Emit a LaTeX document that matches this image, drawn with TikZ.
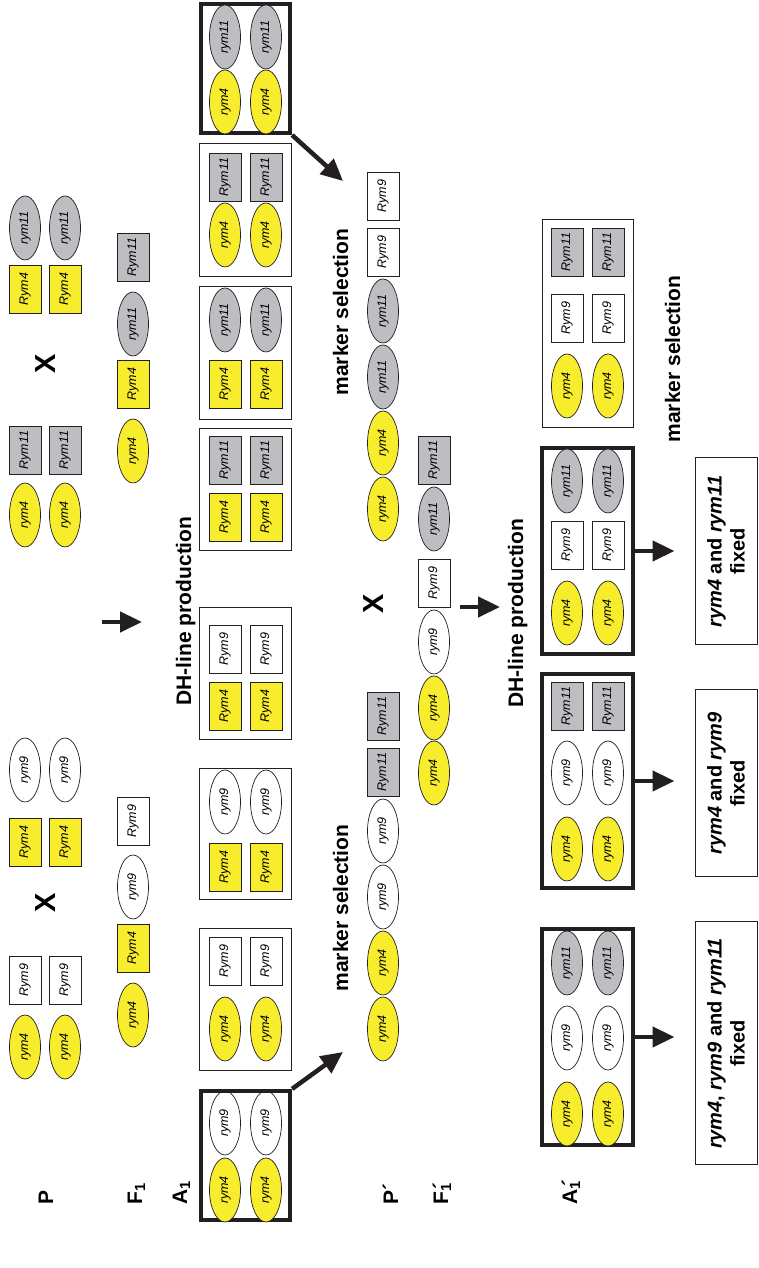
\documentclass[tikz,border=0pt]{standalone}
\usepackage{fontspec}
\setmainfont{Liberation Sans}
\definecolor{rymyellow}{RGB}{248,237,45}
\definecolor{rymgray}{RGB}{189,190,194}
\definecolor{rymline}{RGB}{35,31,32}
\usetikzlibrary{shapes.geometric}
\usetikzlibrary{arrows.meta}

\begin{document}
\begin{tikzpicture}[x=1pt, y=-1pt, rotate=90, transform shape,
  allel/.style={ellipse, draw=rymline, line width=0.7pt, minimum width=64pt, minimum height=31pt,
    inner sep=0pt, font=\fontsize{12.5}{12.5}\selectfont\itshape},
  marker/.style={rectangle, draw=rymline, line width=0.7pt, minimum width=48pt, minimum height=32pt,
    inner sep=0pt, font=\fontsize{12.5}{12.5}\selectfont\itshape},
  yel/.style={fill=rymyellow}, gry/.style={fill=rymgray},
  thinlines/.style={rectangle, draw=rymline, line width=1.2pt, minimum height=92pt, inner sep=0pt},
  thicklines/.style={rectangle, draw=rymline, line width=4.2pt, minimum height=89pt, inner sep=0pt},
  title/.style={font=\fontsize{21}{21}\selectfont\bfseries},
  cross/.style={font=\fontsize{29}{29}\selectfont\bfseries},
  fixbox/.style={rectangle, draw=rymline, line width=1pt, minimum height=62pt, align=center,
    font=\fontsize{20}{23}\selectfont\bfseries},
  bigarrow/.style={draw=rymline, line width=4.5pt, -{Triangle[length=22pt, width=20pt]}},
  ]
  \useasboundingbox (0,0) rectangle (1268,758);

  % row labels
  \node [title, anchor=base west] (lp) at (60,53) {P};
  \node [title, anchor=base west] (lf) at (60,142) {F\textsubscript{1}};
  \node [title, anchor=base west] (la) at (60,187) {A\textsubscript{1}};
  \node [title, anchor=base west] (lpp) at (60,398) {P´};
  \node [title, anchor=base west] (lfp) at (60,448) {F\textsubscript{1}\hspace{-0.3em}´};
  \node [title, anchor=base west] (lap) at (60,577) {A\textsubscript{1}\hspace{-0.3em}´};

  % parents
  \foreach \v/\s in {25/a, 65/b} {
    \node [allel, yel] (pa\s) at (221,\v) {rym4};
    \node [marker] (pb\s) at (288,\v) {Rym9};
    \node [marker, yel] (pc\s) at (426,\v) {Rym4};
    \node [allel] (pd\s) at (498,\v) {rym9};
    \node [allel, yel] (pe\s) at (753,\v) {rym4};
    \node [marker, gry] (pf\s) at (818,\v) {Rym11};
    \node [marker, yel] (pg\s) at (979,\v) {Rym4};
    \node [allel, gry] (ph\s) at (1040,\v) {rym11};
  }
  \node [cross] (xa) at (365,46) {X};
  \node [cross] (xb) at (904,46) {X};

  % F1
  \node [allel, yel] (fa) at (253,133) {rym4};
  \node [marker, yel] (fb) at (320,133) {Rym4};
  \node [allel] (fc) at (381,133) {rym9};
  \node [marker] (fd) at (447,133) {Rym9};
  \node [allel, yel] (fe) at (817,133) {rym4};
  \node [marker, yel] (ff) at (884,133) {Rym4};
  \node [allel, gry] (fg) at (944,133) {rym11};
  \node [marker, gry] (fh) at (1011,133) {Rym11};
  \coordinate (fs) at (646,102);
  \coordinate (ft) at (646,142);
  \draw [bigarrow] (fs) -- (ft);

  % DH lines A1
  \node [title, anchor=base] (dha) at (657,191) {DH-line production};
  \node [thicklines, minimum width=129pt] (a1) at (112.5,245.5) {};
  \node [thinlines, minimum width=142pt] (a2) at (268.5,245.5) {};
  \node [thinlines, minimum width=131pt] (a3) at (434,245.5) {};
  \node [thinlines, minimum width=132pt] (a4) at (594.5,245.5) {};
  \node [thinlines, minimum width=122pt] (a5) at (778.5,245.5) {};
  \node [thinlines, minimum width=133pt] (a6) at (915,245.5) {};
  \node [thinlines, minimum width=133pt] (a7) at (1058,245.5) {};
  \node [thicklines, minimum width=129pt] (a8) at (1199.5,245.5) {};
  \foreach \v/\s in {225/a, 266/b} {
    \node [allel, yel] (a1x\s) at (78,\v) {rym4};
    \node [allel] (a1y\s) at (145,\v) {rym9};
    \node [allel, yel] (a2x\s) at (239,\v) {rym4};
    \node [marker] (a2y\s) at (307,\v) {Rym9};
    \node [marker, yel] (a3x\s) at (401,\v) {Rym4};
    \node [allel] (a3y\s) at (466,\v) {rym9};
    \node [marker, yel] (a4x\s) at (562,\v) {Rym4};
    \node [marker] (a4y\s) at (619,\v) {Rym9};
    \node [marker, yel] (a5x\s) at (751,\v) {Rym4};
    \node [marker, gry] (a5y\s) at (808,\v) {Rym11};
    \node [marker, yel] (a6x\s) at (884,\v) {Rym4};
    \node [allel, gry] (a6y\s) at (948,\v) {rym11};
    \node [allel, yel] (a7x\s) at (1033,\v) {rym4};
    \node [marker, gry] (a7y\s) at (1091,\v) {Rym11};
    \node [allel, yel] (a8x\s) at (1166,\v) {rym4};
    \node [allel, gry] (a8y\s) at (1231,\v) {rym11};
  }

  % selected lines go on
  \coordinate (sa) at (216,343);
  \coordinate (sb) at (1087,343);
  \draw [bigarrow] (a1.south east) -- (sa);
  \draw [bigarrow] (a8.south west) -- (sb);
  \node [title, anchor=base] (msa) at (360,348) {marker selection};
  \node [title, anchor=base] (msb) at (956,348) {marker selection};

  % new parents
  \node [allel, yel] (qa) at (239,383) {rym4};
  \node [allel, yel] (qb) at (305,383) {rym4};
  \node [allel] (qc) at (371,383) {rym9};
  \node [allel] (qd) at (437,383) {rym9};
  \node [marker, gry] (qe) at (496,383) {Rym11};
  \node [marker, gry] (qf) at (552,383) {Rym11};
  \node [allel, yel] (qg) at (759,383) {rym4};
  \node [allel, yel] (qh) at (825,383) {rym4};
  \node [allel, gry] (qi) at (891,383) {rym11};
  \node [allel, gry] (qj) at (957,383) {rym11};
  \node [marker] (qk) at (1016,383) {Rym9};
  \node [marker] (ql) at (1072,383) {Rym9};
  \node [cross] (xc) at (664,374) {X};

  % new F1
  \node [allel, yel] (ga) at (495,434) {rym4};
  \node [allel, yel] (gb) at (560,434) {rym4};
  \node [allel] (gc) at (626,434) {rym9};
  \node [marker] (gd) at (685,434) {Rym9};
  \node [allel, gry] (ge) at (749,434) {rym11};
  \node [marker, gry] (gf) at (808,434) {Rym11};
  \coordinate (gs) at (661,460);
  \coordinate (gt) at (661,500);
  \draw [bigarrow] (gs) -- (gt);

  % DH lines A1'
  \node [title, anchor=base] (dhb) at (655,523) {DH-line production};
  \node [thicklines, minimum width=216pt, minimum height=91pt] (b1) at (231,587.5) {};
  \node [thicklines, minimum width=214pt, minimum height=91pt] (b2) at (487,587.5) {};
  \node [thicklines, minimum width=206pt, minimum height=91pt] (b3) at (717,587.5) {};
  \node [thinlines, minimum width=208pt, minimum height=91pt] (b4) at (944.5,588) {};
  \foreach \v/\s in {567/a, 608/b} {
    \node [allel, yel] (b1x\s) at (154,\v) {rym4};
    \node [allel] (b1y\s) at (230,\v) {rym9};
    \node [allel, gry] (b1z\s) at (305,\v) {rym11};
    \node [allel, yel] (b2x\s) at (419,\v) {rym4};
    \node [allel] (b2y\s) at (495,\v) {rym9};
    \node [marker, gry] (b2z\s) at (562,\v) {Rym11};
    \node [allel, yel] (b3x\s) at (655,\v) {rym4};
    \node [marker] (b3y\s) at (723,\v) {Rym9};
    \node [allel, gry] (b3z\s) at (787,\v) {rym11};
    \node [allel, yel] (b4x\s) at (882,\v) {rym4};
    \node [marker] (b4y\s) at (950,\v) {Rym9};
    \node [marker, gry] (b4z\s) at (1016,\v) {Rym11};
  }
  \node [title, anchor=base] (msc) at (909,680) {marker selection};

  % fixed genes
  \node [fixbox, minimum width=243pt] (fx1) at (224.5,726) {\textit{rym4}, \textit{rym9} and \textit{rym11}\\fixed};
  \node [fixbox, minimum width=187pt] (fx2) at (484.5,726) {\textit{rym4} and \textit{rym9}\\fixed};
  \node [fixbox, minimum width=187pt] (fx3) at (716.5,726) {\textit{rym4} and \textit{rym11}\\fixed};
  \draw [bigarrow, shorten >=20pt] (b1.south) -- (fx1.north -| b1.south);
  \draw [bigarrow, shorten >=20pt] (b2.south) -- (fx2.north -| b2.south);
  \draw [bigarrow, shorten >=20pt] (b3.south) -- (fx3.north -| b3.south);

\end{tikzpicture}
\end{document}
